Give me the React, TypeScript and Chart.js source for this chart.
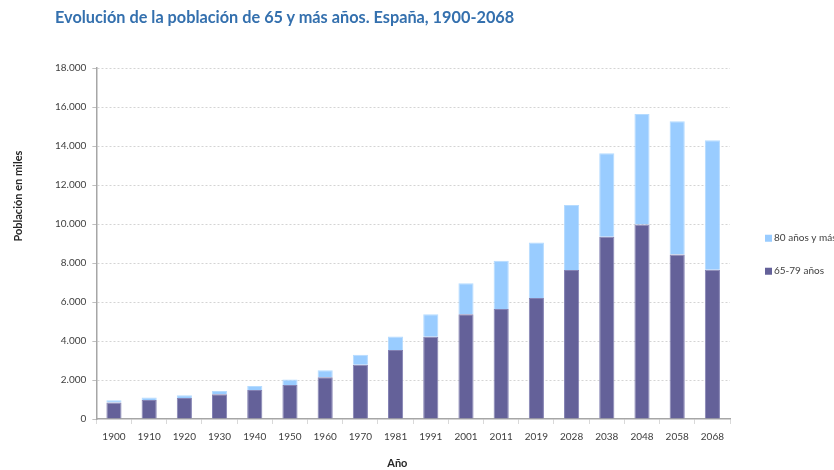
import React, { useEffect, useRef } from "react";
import { Chart, registerables } from "chart.js";

Chart.register(...registerables);

const years = ["1900", "1910", "1920", "1930", "1940", "1950", "1960", "1970", "1981", "1991", "2001", "2011", "2019", "2028", "2038", "2048", "2058", "2068"];
const age6579 = [852, 979, 1074, 1263, 1485, 1746, 2137, 2777, 3541, 4222, 5378, 5641, 6200, 7640, 9350, 9970, 8430, 7660];
const age80plus = [115, 127, 143, 178, 205, 277, 368, 514, 696, 1148, 1580, 2475, 2857, 3330, 4280, 5670, 6840, 6640];
const yTicks = [0, 2000, 4000, 6000, 8000, 10000, 12000, 14000, 16000, 18000];

const titleText = "Evolución de la población de 65 y más años. España, 1900-2068";
const yTitle = "Población en miles";
const xTitle = "Año";
const label6579 = "65-79 años";
const label80 = "80 años y más";

const FONT = "Lato, 'Open Sans', sans-serif";

const fmt = (v: number) => String(v).replace(/\B(?=(\d{3})+(?!\d))/g, ".");

const extrasPlugin = {
  id: "extras",
  afterDraw(chart: any) {
    const { ctx, chartArea } = chart;
    const h = chartArea.bottom - chartArea.top;
    ctx.save();
    // y title
    ctx.font = `bold 11px ${FONT}`;
    ctx.fillStyle = "#262626";
    ctx.textAlign = "center";
    ctx.textBaseline = "middle";
    ctx.save();
    ctx.translate(18, chartArea.top + h * 0.365);
    ctx.rotate(-Math.PI / 2);
    ctx.fillText(yTitle, 0, 0);
    ctx.restore();
    // x title
    ctx.fillText(xTitle, chartArea.left + (chartArea.right - chartArea.left) * 0.475, 463);
    // legend (reversed order)
    const ds = chart.data.datasets.slice().reverse();
    const cy = chartArea.top + h * 0.485;
    ds.forEach((d: any, i: number) => {
      const y = cy + i * 33;
      const x = chartArea.right + 35;
      ctx.fillStyle = d.backgroundColor;
      ctx.fillRect(x, y - 3.5, 7, 7);
      ctx.fillStyle = "#404040";
      ctx.font = `10px ${FONT}`;
      ctx.textAlign = "left";
      ctx.fillText(d.label, x + 9, y);
    });
    ctx.restore();
  },
};

export default function App() {
  const ref = useRef<HTMLCanvasElement | null>(null);
  useEffect(() => {
    if (!ref.current) return;
    const chart = new Chart(ref.current, {
      type: "bar",
      data: {
        labels: years,
        datasets: [
          {
            label: label6579,
            data: age6579,
            backgroundColor: "#646199",
            borderColor: "#8482B3",
            borderWidth: 1,
            categoryPercentage: 1,
            barPercentage: 0.43,
          },
          {
            label: label80,
            data: age80plus,
            backgroundColor: "#99CCFF",
            borderColor: "#B5DBFF",
            borderWidth: 1,
            categoryPercentage: 1,
            barPercentage: 0.43,
          },
        ],
      },
      options: {
        animation: false,
        responsive: false,
        maintainAspectRatio: false,
        layout: { padding: { top: 68, left: 49, right: 119, bottom: 20 } },
        plugins: {
          legend: { display: false },
          title: { display: false },
          tooltip: { enabled: false },
        },
        scales: {
          x: {
            stacked: true,
            grid: {
              offset: true,
              drawOnChartArea: false,
              drawTicks: true,
              tickLength: 5,
              color: "#D9D9D9",
            },
            border: { color: "#A6A6A6", width: 1.5 },
            ticks: {
              padding: 7,
              color: "#404040",
              font: { family: FONT, size: 10 },
              maxRotation: 0,
              autoSkip: false,
            },
          },
          y: {
            stacked: true,
            min: 0,
            max: 18000,
            afterBuildTicks: (axis: any) => {
              axis.ticks = yTicks.map((v) => ({ value: v }));
            },
            grid: {
              color: (c: any) => (c.tick && c.tick.value === 0 ? "rgba(0,0,0,0)" : "#D4D4D4"),
              tickColor: "#BFBFBF",
              tickLength: 4,
              drawTicks: true,
            },
            border: { color: "#A6A6A6", width: 1.5, dash: [2, 2] },
            ticks: {
              padding: 6,
              color: "#404040",
              font: { family: FONT, size: 10 },
              callback: (v: any) => fmt(Number(v)),
            },
          },
        },
      },
      plugins: [extrasPlugin],
    });
    return () => chart.destroy();
  }, []);

  return (
    <div style={{ position: "fixed", left: 0, top: 0, width: 834, height: 470, overflow: "hidden", background: "#fff" }}>
      <div
        style={{
          position: "absolute",
          left: 55,
          top: 7,
          font: `bold 16.3px ${FONT}`,
          color: "#3470AE",
          whiteSpace: "nowrap",
        }}
      >
        {titleText}
      </div>
      <canvas ref={ref} width={849} height={470} style={{ display: "block", width: 849, height: 470 }} />
    </div>
  );
}
